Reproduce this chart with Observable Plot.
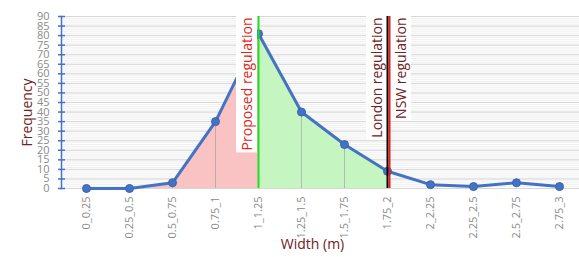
<!DOCTYPE html>
<html>
<head>
<meta charset="utf-8">
<script src="https://cdn.jsdelivr.net/npm/d3@7"></script>
<script src="https://cdn.jsdelivr.net/npm/@observablehq/plot@0.6"></script>
<style>
  html, body { margin: 0; padding: 0; background: #fff; }
  #chart svg { display: block; font-family: "Open Sans", sans-serif; }
</style>
</head>
<body>
<div id="chart"></div>
<script>
const categories = ["0_0.25","0.25_0.5","0.5_0.75","0.75_1","1_1.25","1.25_1.5","1.5_1.75","1.75_2","2_2.25","2.25_2.5","2.5_2.75","2.75_3"];
const frequency = [0, 0, 3, 35, 81, 40, 23, 9, 2, 1, 3, 1];
const yTicks = [0,5,10,15,20,25,30,35,40,45,50,55,60,65,70,75,80,85,90];
const minorTicks = d3.range(0, 91, 1);
const proposedCat = "1_1.25";
const londonCat = "1.75_2";
const nswCat = "1.75_2";
const dropCats = ["0.5_0.75","0.75_1","1.25_1.5","1.5_1.75"];

const data = categories.map((c, i) => ({cat: c, freq: frequency[i]}));
const iP = categories.indexOf(proposedCat);
const iL = categories.indexOf(londonCat);
const pinkData = data.slice(0, iP + 1);
const greenData = data.slice(iP, iL + 1);
const drops = data.filter(d => dropCats.includes(d.cat));

const blue = "#4472c4";
const maroon = "#6e2222";

const plot = Plot.plot({
  width: 579,
  height: 257,
  marginLeft: 61,
  marginRight: 0,
  marginTop: 16,
  marginBottom: 69,
  style: {fontFamily: "Open Sans, sans-serif", background: "#fff"},
  x: {type: "point", domain: categories, range: [83, 561], padding: 0},
  y: {domain: [0, 90]},
  marks: [
    Plot.ruleY(minorTicks, {stroke: "#f0f0f0"}),
    Plot.ruleY(yTicks, {stroke: "#d6d6d6"}),
    Plot.areaY(pinkData, {x: "cat", y: "freq", fill: "#f9c3c3", curve: "linear"}),
    Plot.areaY(greenData, {x: "cat", y: "freq", fill: "#c5f5c0", curve: "linear"}),
    Plot.ruleX(drops, {x: "cat", y1: 0, y2: "freq", stroke: "#999", strokeOpacity: 0.6}),
    Plot.lineY(data, {x: "cat", y: "freq", stroke: blue, strokeWidth: 3}),
    Plot.dot(data, {x: "cat", y: "freq", r: 4, fill: blue, stroke: "#3b63ad", strokeWidth: 1}),
    Plot.frame({anchor: "left", stroke: blue, strokeWidth: 1.5}),
    Plot.axisY({ticks: yTicks, tickSize: 7, dx: 4, tickPadding: 9, stroke: blue, strokeWidth: 1.5, fill: "#8a8a8a", fontSize: 11, label: null}),
    Plot.axisX({tickRotate: -90, tickSize: 0, tickPadding: 8, fill: "#8a8a8a", fontSize: 11, label: null}),
    Plot.text(["Frequency"], {frameAnchor: "left", textAnchor: "middle", dx: -34, dy: 10, rotate: -90, fill: maroon, fontSize: 14}),
    Plot.text(["Width (m)"], {frameAnchor: "bottom", dx: -8, dy: 60, fill: maroon, fontSize: 14}),
    Plot.text(["Proposed regulation"], {x: d => proposedCat, y: 90, dy: 1, dx: -11, rotate: -90, textAnchor: "end", fill: "#e3261d", fontSize: 14, className: "ann"}),
    Plot.text(["London regulation"], {x: d => londonCat, y: 90, dy: 1, dx: -10, rotate: -90, textAnchor: "end", fill: maroon, fontSize: 14, className: "ann"}),
    Plot.text(["NSW regulation"], {x: d => nswCat, y: 90, dy: 1, dx: 14, rotate: -90, textAnchor: "end", fill: maroon, fontSize: 14, className: "ann"}),
    Plot.ruleX([proposedCat], {x: d => d, stroke: "#22dd22", strokeWidth: 2}),
    Plot.ruleX([londonCat], {x: d => d, stroke: "#000", strokeWidth: 2}),
    Plot.ruleX([nswCat], {x: d => d, stroke: "#e31b1b", strokeWidth: 2, dx: 2})
  ]
});
document.getElementById("chart").appendChild(plot);
plot.querySelectorAll("g.ann text").forEach(t => {
  const bb = t.getBBox();
  const r = document.createElementNS("http://www.w3.org/2000/svg", "rect");
  r.setAttribute("x", bb.x - 2);
  r.setAttribute("y", bb.y - 1);
  r.setAttribute("width", bb.width + 4);
  r.setAttribute("height", bb.height + 2);
  r.setAttribute("fill", "#fff");
  r.setAttribute("stroke", "none");
  if (t.getAttribute("transform")) r.setAttribute("transform", t.getAttribute("transform"));
  t.parentNode.insertBefore(r, t);
});
</script>
</body>
</html>
